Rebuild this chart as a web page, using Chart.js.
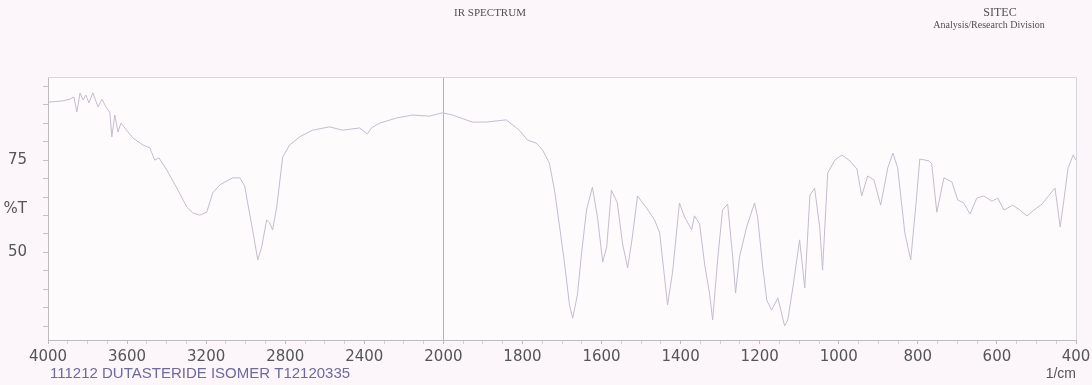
<!DOCTYPE html>
<html>
<head>
<meta charset="utf-8">
<script src="https://cdn.jsdelivr.net/npm/chart.js@4.4.0/dist/chart.umd.min.js"></script>
<style>
  html, body { margin: 0; padding: 0; background: #fcf5fa; }
  #myChart { display: block; }
</style>
</head>
<body>
<canvas id="myChart" width="1092" height="385"></canvas>
<script>
// IR spectrum: wavenumber (1/cm) and %T
let wave = [
  4000,3929,3889,3869,3854,3838,3823,3808,3793,3773,3747,3727,3707,3687,3677,3662,3646,3631,3611,3571,
  3520,3485,3460,3439,3399,3348,3298,3268,3232,3197,3167,3131,3066,3030,3005,2990,2965,2939,2919,2894,
  2879,2864,2843,2813,2778,2727,2662,2576,2510,2424,2384,2364,2323,2237,2157,2071,2005,
  1977,1927,1891,1841,1808,1787,1765,1749,1732,1719,1706,1694,1681,1673,1661,1651,1638,1623,1610,1597,
  1587,1575,1560,1547,1534,1522,1509,1486,1466,1453,1433,1420,1403,1390,1372,1365,1352,1339,1327,1319,
  1306,1294,1281,1268,1261,1251,1233,1213,1205,1192,1182,1170,1154,1137,1129,1116,1099,1086,1073,1061,
  1048,1041,1028,1010,992,972,954,942,927,911,894,876,863,851,833,818,805,795,772,765,
  752,734,714,699,684,668,651,633,613,598,582,560,542,524,506,486,468,453,440,430,420,407,400
];
let trans = [
  90.7,91.0,91.5,92.1,88.0,93.2,91.3,92.6,90.5,93.2,89.4,91.5,89.4,87.8,81.3,87.2,82.6,85.0,83.7,81.0,
  79.1,78.3,75.0,75.6,72.3,67.4,62.3,60.7,60.1,60.9,66.1,68.3,70.2,70.2,68.0,63.4,56.1,48.0,51.5,58.8,
  58.0,56.1,62.3,75.8,79.1,81.3,83.1,84.0,83.1,83.7,82.1,83.7,85.0,86.4,87.2,86.9,87.8,
  87.2,85.3,85.3,85.9,83.1,80.4,79.6,77.7,74.2,66.9,56.9,47.4,35.8,32.2,38.5,49.3,61.5,67.7,59.3,47.4,
  51.5,66.9,63.4,52.5,45.8,54.2,65.3,62.0,58.8,55.3,35.8,45.0,63.4,59.6,56.1,59.9,57.7,46.6,39.0,31.7,
  48.5,61.5,63.1,48.5,39.0,48.8,56.9,63.4,59.3,45.8,37.1,34.4,37.7,30.1,31.7,40.6,53.4,40.4,65.5,67.4,
  56.6,45.2,71.5,75.0,76.4,74.8,72.6,65.3,70.7,69.6,62.8,72.9,76.9,72.9,55.3,48.0,62.8,75.3,74.8,74.0,
  60.9,70.2,69.1,64.2,63.4,60.4,64.7,65.3,63.9,64.7,61.5,62.8,61.5,59.9,61.5,63.1,65.5,67.4,56.9,64.7,72.9,76.4,75.0
];

let xLabels = [4000,3600,3200,2800,2400,2000,1800,1600,1400,1200,1000,800,600,400];
let yLabels = [50,75];
let yMinor = [30,35,40,45,50,55,60,65,70,75,80,85,90,95];

// the axis is expanded 2x below 2000 1/cm
function toU(w) {
  return w >= 2000 ? (4000 - w) / 400 : 5 + (2000 - w) / 200;
}

let points = wave.map((w, i) => ({ x: toU(w), y: trans[i] }));

let paperBg = {
  id: 'paperBg',
  beforeDraw(chart) {
    let c = chart.ctx;
    c.save();
    c.fillStyle = '#fcf5fa';
    c.fillRect(0, 0, chart.width, chart.height);
    let a = chart.chartArea;
    c.fillStyle = '#fefbfd';
    c.fillRect(a.left, a.top, a.right - a.left, a.bottom - a.top);
    c.restore();
  },
  afterDraw(chart) {
    let c = chart.ctx;
    let a = chart.chartArea;
    c.save();
    c.strokeStyle = '#d6d4d8';
    c.lineWidth = 1;
    c.beginPath();
    c.moveTo(a.left, a.top + 0.5);
    c.lineTo(a.right + 0.5, a.top + 0.5);
    c.lineTo(a.right + 0.5, a.bottom);
    c.stroke();

    c.fillStyle = '#505050';
    c.textBaseline = 'middle';
    c.textAlign = 'center';
    c.font = '11px "Liberation Serif", serif';
    c.fillText('IR SPECTRUM', 490, 13);
    c.font = '12px "Liberation Serif", serif';
    c.fillText('SITEC', 1000, 13);
    c.font = '10px "Liberation Serif", serif';
    c.fillText('Analysis/Research Division', 989, 25);

    c.fillStyle = '#555';
    c.font = '15px "DejaVu Sans", sans-serif';
    c.textAlign = 'right';
    c.fillText('%T', 27, 209);

    c.textAlign = 'left';
    c.fillStyle = '#6d6a9c';
    c.font = '15px "Liberation Sans", Arial, sans-serif';
    c.fillText('111212 DUTASTERIDE ISOMER T12120335', 50, 374);
    c.fillStyle = '#555';
    c.font = '14px "Liberation Sans", Arial, sans-serif';
    c.textAlign = 'right';
    c.fillText('1/cm', 1076, 374);
    c.restore();
  }
};

new Chart(document.getElementById('myChart'), {
  type: 'line',
  data: {
    datasets: [{
      data: points,
      borderColor: '#c4bdce',
      borderWidth: 1,
      pointRadius: 0,
      tension: 0,
      fill: false
    }]
  },
  options: {
    responsive: false,
    animation: false,
    parsing: false,
    layout: { padding: { left: 0, right: 16, top: 77, bottom: 0 } },
    plugins: {
      legend: { display: false },
      tooltip: { enabled: false }
    },
    scales: {
      x: {
        type: 'linear',
        min: 0,
        max: 13,
        afterFit(scale) {
          scale.height = 45;
          scale.paddingLeft = 0;
          scale.paddingRight = 0;
        },
        afterBuildTicks(scale) {
          let t = [];
          for (let u = 0; u <= 13; u += 0.25) t.push({ value: u });
          scale.ticks = t;
        },
        ticks: {
          autoSkip: false,
          maxRotation: 0,
          padding: 4,
          color: '#555',
          font: { family: '"DejaVu Sans", sans-serif', size: 15 },
          callback(v) {
            if (!Number.isInteger(v)) return '';
            return xLabels[v];
          }
        },
        grid: {
          color: ctx => (ctx.tick && ctx.tick.value === 5) ? '#b4b2b6' : 'rgba(0,0,0,0)',
          tickColor: ctx => (ctx.tick && Number.isInteger(ctx.tick.value)) ? '#bdbbc0' : '#d4d2d6',
          tickLength: 4
        },
        border: { display: true, color: '#bdbbc0' }
      },
      y: {
        min: 26.3,
        max: 97.5,
        afterFit(scale) {
          scale.width = 48;
          scale.paddingTop = 0;
          scale.paddingBottom = 0;
        },
        afterBuildTicks(scale) {
          scale.ticks = yMinor.map(v => ({ value: v }));
        },
        ticks: {
          autoSkip: false,
          padding: 16,
          color: '#555',
          font: { family: '"DejaVu Sans", sans-serif', size: 15 },
          callback(v) { return yLabels.includes(v) ? String(v) : ''; }
        },
        grid: {
          drawOnChartArea: false,
          tickColor: '#c4c2c6',
          tickLength: 5
        },
        border: { display: true, color: '#bdbbc0' }
      }
    }
  },
  plugins: [paperBg]
});
</script>
</body>
</html>
